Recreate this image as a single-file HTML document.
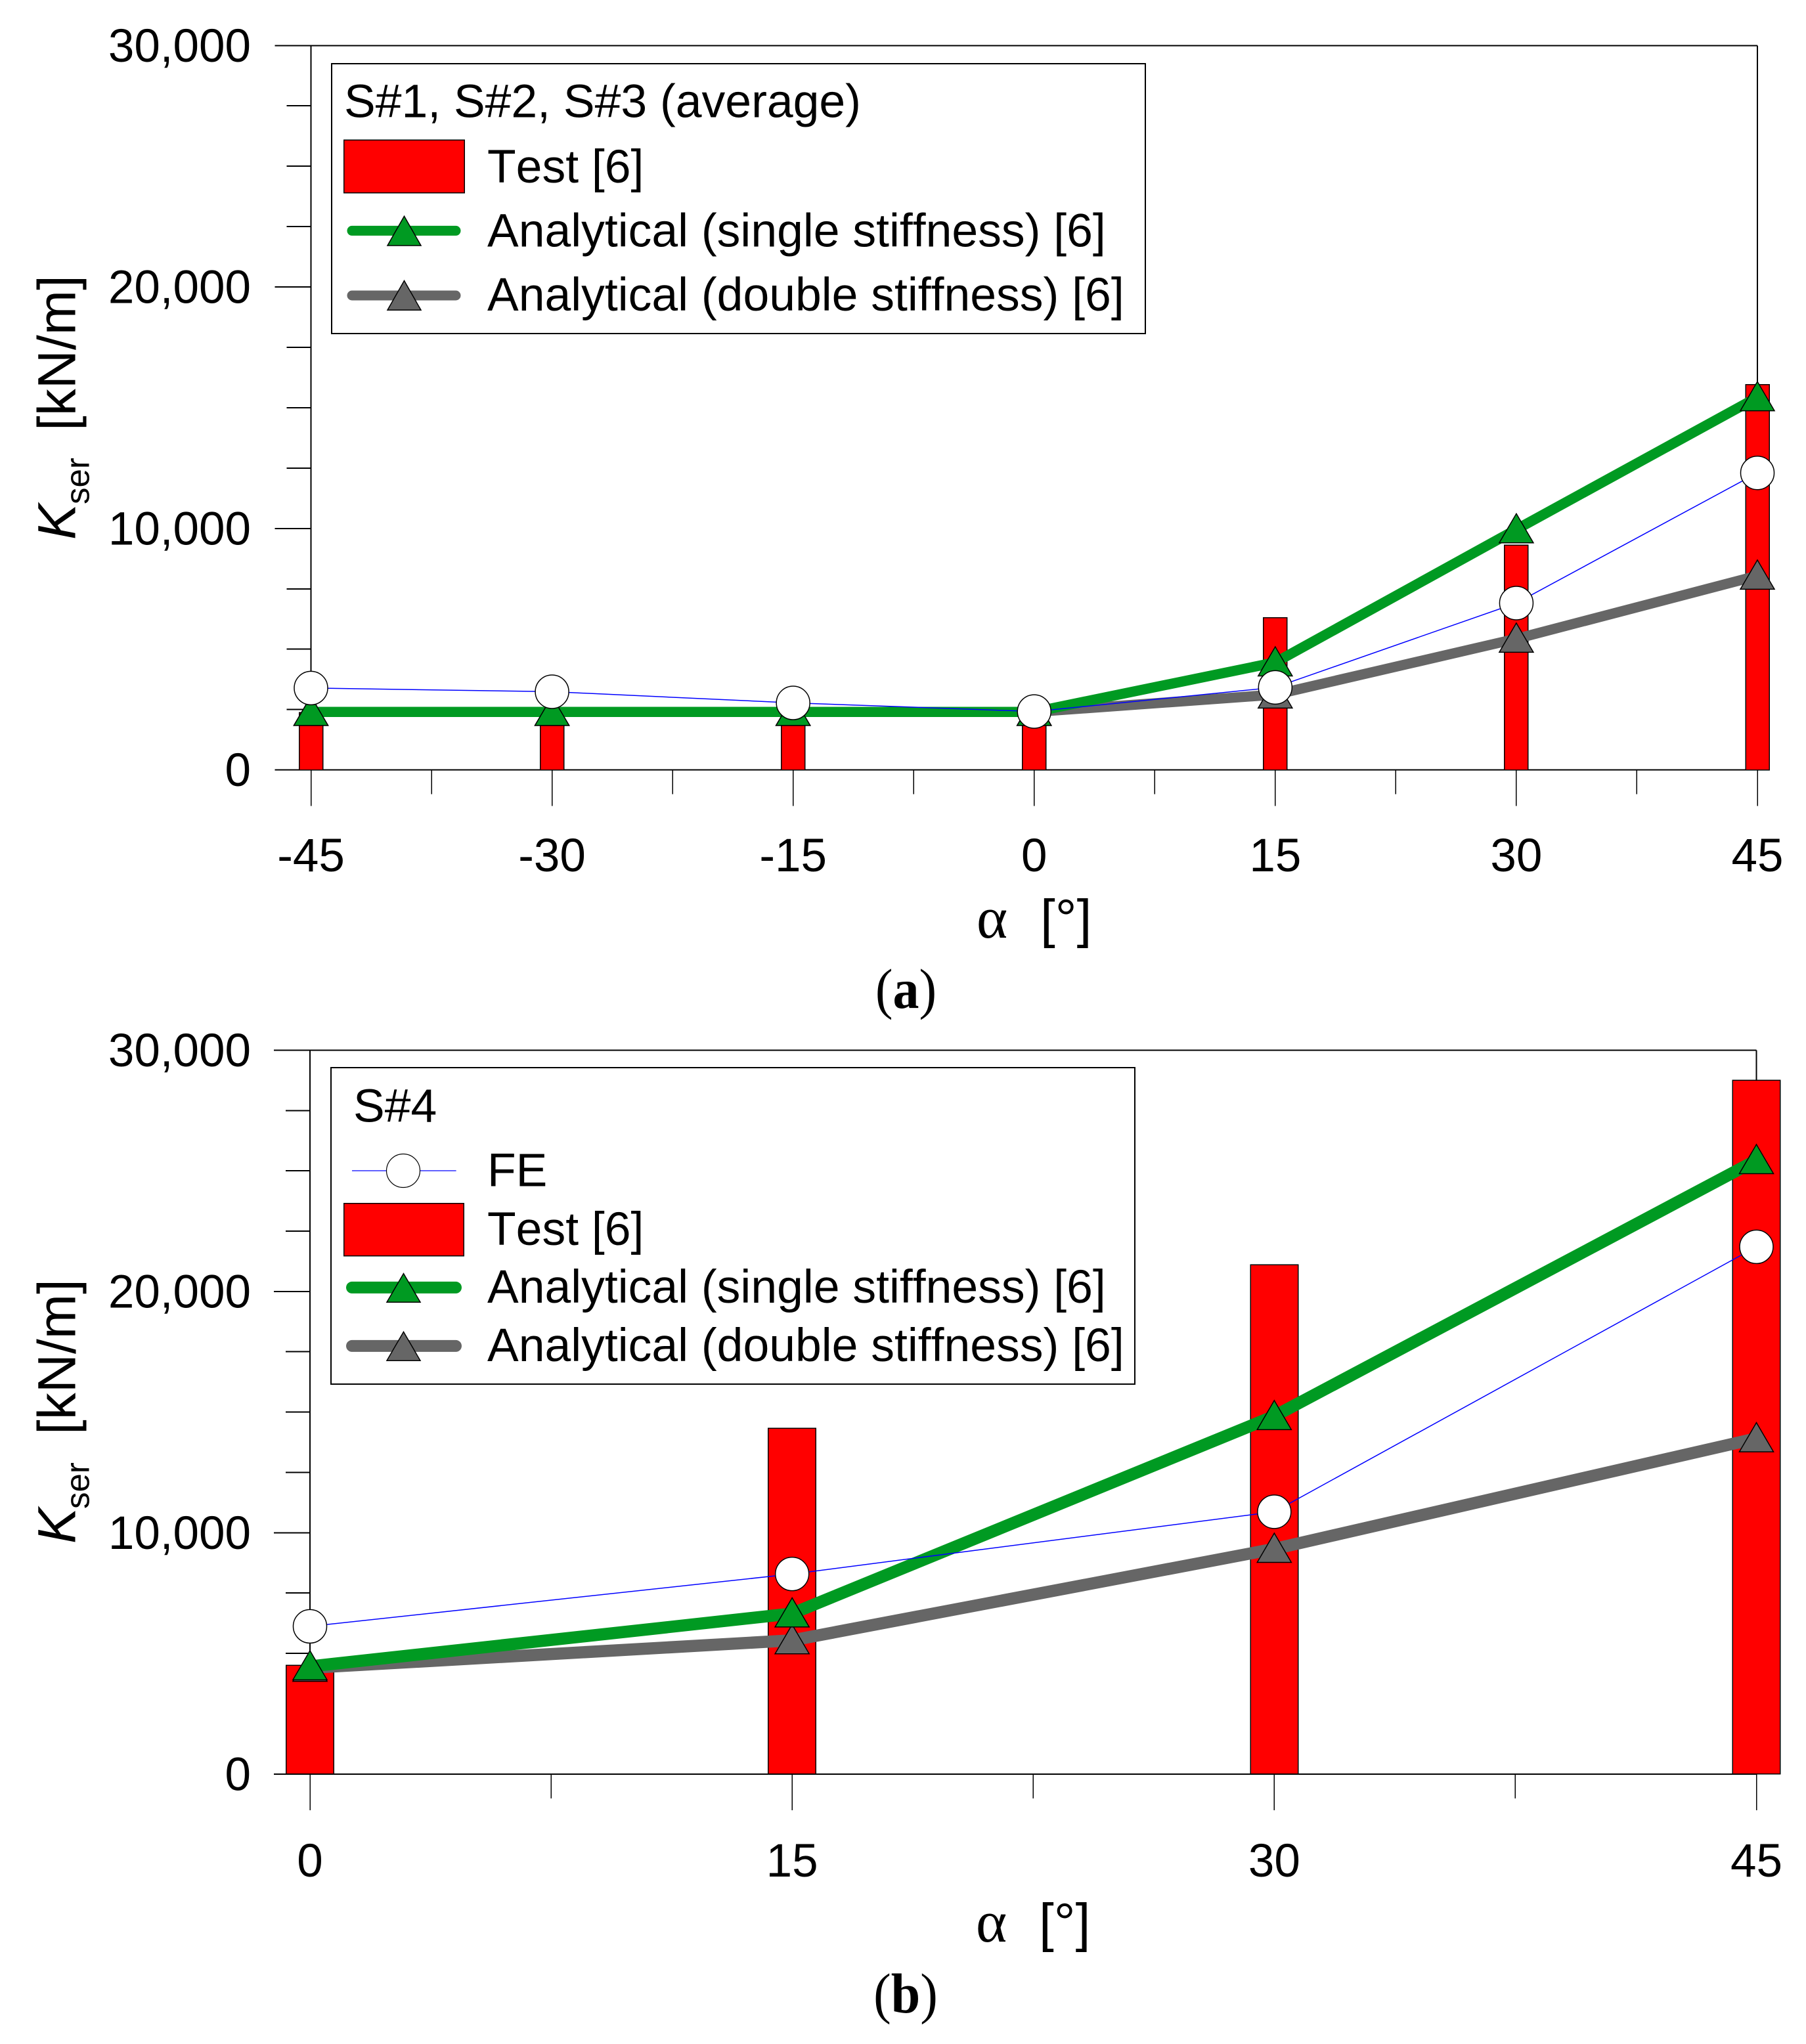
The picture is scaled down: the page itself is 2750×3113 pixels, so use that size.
<!DOCTYPE html>
<html lang="en">
<head>
<meta charset="utf-8">
<title>Kser versus alpha</title>
<style>
html,body{margin:0;padding:0;background:#fff;}
svg{display:block;}
text{font-family:"Liberation Sans",sans-serif;fill:#000;font-kerning:none;}
.t72{font-size:71.5px;}
.crisp{shape-rendering:crispEdges;}
</style>
</head>
<body>
<svg id="chart" xmlns="http://www.w3.org/2000/svg" width="2750" height="3113" viewBox="0 0 2750 3113">
  <rect x="0" y="0" width="2750" height="3113" fill="#ffffff"/>

  <g id="panel-a"></g>
  <g id="panel-b"></g>

  <!-- Panel (a) titles -->
  <text transform="translate(114.7 822) rotate(-90)" font-size="82" font-style="italic">K</text>
  <text transform="translate(135.7 768) rotate(-90)" font-size="51">ser</text>
  <text transform="translate(114.7 656) rotate(-90)" font-size="82">[kN/m]</text>
  <text x="1487" y="1428" font-size="90" style="font-family:'Liberation Serif',serif">α</text>
  <text x="1584" y="1427" font-size="82">[°]</text>
  <text transform="translate(1379.5 1535) scale(0.93 1)" font-size="86" text-anchor="middle" style="font-family:'Liberation Serif',serif">(<tspan font-weight="bold">a</tspan>)</text>

  <!-- Panel (a) legend -->
  <g>
    <rect class="crisp" x="505" y="97" width="1239" height="411" fill="#fff" stroke="#000" stroke-width="2"/>
    <text class="t72" x="524" y="178.6">S#1, S#2, S#3 (average)</text>
    <rect class="crisp" x="523.5" y="213" width="183.5" height="80.5" fill="#ff0000" stroke="#000" stroke-width="1.5"/>
    <text class="t72" x="742" y="278">Test [6]</text>
    <line x1="536" y1="351.4" x2="694" y2="351.4" stroke="#009a22" stroke-width="15" stroke-linecap="round"/>
    <polygon points="615.5,329.3 641,374 590,374" fill="#009a22" stroke="#000" stroke-width="1.5"/>
    <text class="t72" x="742" y="375.7">Analytical (single stiffness) [6]</text>
    <line x1="536" y1="450" x2="694" y2="450" stroke="#666666" stroke-width="15" stroke-linecap="round"/>
    <polygon points="615.5,427.5 641,472.3 590,472.3" fill="#666666" stroke="#000" stroke-width="1.5"/>
    <text class="t72" x="742" y="473.2">Analytical (double stiffness) [6]</text>
  </g>

  <!-- Panel (b) titles -->
  <text transform="translate(114.7 2351) rotate(-90)" font-size="82" font-style="italic">K</text>
  <text transform="translate(135.7 2298) rotate(-90)" font-size="51">ser</text>
  <text transform="translate(114.7 2185) rotate(-90)" font-size="82">[kN/m]</text>
  <text x="1486" y="2957" font-size="90" style="font-family:'Liberation Serif',serif">α</text>
  <text x="1582" y="2956" font-size="82">[°]</text>
  <text transform="translate(1379 3065) scale(0.93 1)" font-size="86" text-anchor="middle" style="font-family:'Liberation Serif',serif">(<tspan font-weight="bold">b</tspan>)</text>

  <!-- Panel (b) legend -->
  <g>
    <rect class="crisp" x="504" y="1626" width="1224" height="482" fill="#fff" stroke="#000" stroke-width="2"/>
    <text class="t72" x="538" y="1708.5">S#4</text>
    <line x1="536" y1="1783" x2="694.6" y2="1783" stroke="#0000ff" stroke-width="1.3"/>
    <circle cx="614" cy="1783" r="25.5" fill="#fff" stroke="#000" stroke-width="1.2"/>
    <text class="t72" x="742" y="1806.5">FE</text>
    <rect class="crisp" x="523.5" y="1832.5" width="182.5" height="80" fill="#ff0000" stroke="#000" stroke-width="1.5"/>
    <text class="t72" x="742" y="1896">Test [6]</text>
    <line x1="536" y1="1960.9" x2="694" y2="1960.9" stroke="#009a22" stroke-width="18" stroke-linecap="round"/>
    <polygon points="614.5,1939.6 640,1983.3 589,1983.3" fill="#009a22" stroke="#000" stroke-width="1.5"/>
    <text class="t72" x="742" y="1984">Analytical (single stiffness) [6]</text>
    <line x1="536" y1="2049.9" x2="694" y2="2049.9" stroke="#666666" stroke-width="18" stroke-linecap="round"/>
    <polygon points="614.5,2028.4 640,2072.3 589,2072.3" fill="#666666" stroke="#000" stroke-width="1.5"/>
    <text class="t72" x="742" y="2072.8">Analytical (double stiffness) [6]</text>
  </g>
</svg>

<script>
// ---- Data ----
var categoriesA = [-45, -30, -15, 0, 15, 30, 45];
var testA   = [2370, 2370, 2370, 2370, 6310, 9315, 15960];
var feA     = [3390, 3240, 2775, 2420, 3420, 6910, 12300];
var singleA = [2400, 2400, 2400, 2400, 4450, 9960, 15430];
var doubleA = [2400, 2400, 2400, 2400, 3120, 5430, 8040];

var categoriesB = [0, 15, 30, 45];
var testB   = [4500, 14335, 21110, 28750];
var feB     = [6120, 8290, 10870, 21850];
var singleB = [4460, 6650, 14830, 25440];
var doubleB = [4400, 5540, 9330, 13910];

var yTickValues = [0, 10000, 20000, 30000];
var yMinorValues = [2500, 5000, 7500, 12500, 15000, 17500, 22500, 25000, 27500];
var yTickLabels = ['0', '10,000', '20,000', '30,000'];

// ---- Rendering ----
var SVGNS = 'http://www.w3.org/2000/svg';

function make(tag, attrs, parent) {
  var el = document.createElementNS(SVGNS, tag);
  for (var k in attrs) { el.setAttribute(k, attrs[k]); }
  parent.appendChild(el);
  return el;
}

function drawPanel(root, geo, categories, test, fe, single, double) {
  var xMin = categories[0];
  var xMax = categories[categories.length - 1];
  function xScale(v) { return geo.xLeft + (v - xMin) / (xMax - xMin) * (geo.xRight - geo.xLeft); }
  function yScale(v) { return geo.yBase + v / 30000 * (geo.yTop - geo.yBase); }
  var i, el, x, y;

  // Frame
  el = make('line', {x1: geo.xLeft - 55, y1: yScale(30000), x2: geo.xRight, y2: yScale(30000), stroke: '#000', 'stroke-width': 2, 'class': 'crisp'}, root);
  
  
  el = make('line', {x1: geo.xLeft - 55, y1: yScale(0), x2: geo.xRight, y2: yScale(0), stroke: '#000', 'stroke-width': 2, 'class': 'crisp'}, root);
  
  
  el = make('line', {x1: geo.xLeft, y1: yScale(0), x2: geo.xLeft, y2: yScale(30000), stroke: '#000', 'stroke-width': 2, 'class': 'crisp'}, root);
  
  
  el = make('line', {x1: geo.xRight, y1: yScale(0), x2: geo.xRight, y2: yScale(30000), stroke: '#000', 'stroke-width': 2, 'class': 'crisp'}, root);
  
  

  // Y ticks
  for (i = 0; i < yTickValues.length; i++) {
    y = yScale(yTickValues[i]);
    el = make('line', {x1: geo.xLeft - 55, y1: y, x2: geo.xLeft, y2: y, stroke: '#000', 'stroke-width': 2, 'class': 'crisp'}, root);
    
    
    el = make('text', {x: 382, y: y + 24.5, 'text-anchor': 'end', 'font-size': 71}, root);
    
    
    el.textContent = yTickLabels[i];
  }
  for (i = 0; i < yMinorValues.length; i++) {
    y = yScale(yMinorValues[i]);
    el = make('line', {x1: geo.xLeft - 37, y1: y, x2: geo.xLeft, y2: y, stroke: '#000', 'stroke-width': 2, 'class': 'crisp'}, root);
    
    
  }

  // X ticks
  for (i = 0; i < categories.length; i++) {
    x = xScale(categories[i]);
    el = make('line', {x1: x, y1: geo.yBase, x2: x, y2: geo.yBase + 55, stroke: '#000', 'stroke-width': 1.5, 'class': 'crisp'}, root);
    
    
    el = make('text', {x: x, y: geo.xLabelY, 'text-anchor': 'middle', 'font-size': 71}, root);
    
    
    el.textContent = String(categories[i]);
    if (i < categories.length - 1) {
      var xm = xScale((categories[i] + categories[i + 1]) / 2);
      el = make('line', {x1: xm, y1: geo.yBase, x2: xm, y2: geo.yBase + 37, stroke: '#000', 'stroke-width': 1.5, 'class': 'crisp'}, root);
      
      
    }
  }

  // Bars
  for (i = 0; i < categories.length; i++) {
    y = yScale(test[i]);
    el = make('rect', {x: xScale(categories[i]) - geo.barWidth / 2, y: y, width: geo.barWidth, height: geo.yBase - y, fill: '#ff0000', stroke: '#000', 'stroke-width': 1.5, 'class': 'crisp'}, root);
    
    
  }

  function polylinePoints(values) {
    var pts = [];
    for (var j = 0; j < categories.length; j++) {
      pts.push(xScale(categories[j]).toFixed(1) + ',' + yScale(values[j]).toFixed(1));
    }
    return pts.join(' ');
  }
  function trianglePoints(cat, val) {
    var cx = xScale(cat), cy = yScale(val);
    return cx + ',' + (cy - 24) + ' ' + (cx + 26) + ',' + (cy + 20.5) + ' ' + (cx - 26) + ',' + (cy + 20.5);
  }

  // Double stiffness series
  el = make('polyline', {points: polylinePoints(double), fill: 'none', stroke: '#666666', 'stroke-width': geo.lineWidth, 'stroke-linejoin': 'round'}, root);
  
  
  for (i = 0; i < categories.length; i++) {
    el = make('polygon', {points: trianglePoints(categories[i], double[i]), fill: '#666666', stroke: '#000', 'stroke-width': 1.5}, root);
    
    
  }

  // Single stiffness series
  el = make('polyline', {points: polylinePoints(single), fill: 'none', stroke: '#009a22', 'stroke-width': geo.lineWidth, 'stroke-linejoin': 'round'}, root);
  
  
  for (i = 0; i < categories.length; i++) {
    el = make('polygon', {points: trianglePoints(categories[i], single[i]), fill: '#009a22', stroke: '#000', 'stroke-width': 1.5}, root);
    
    
  }

  // FE series
  el = make('polyline', {points: polylinePoints(fe), fill: 'none', stroke: '#0000ff', 'stroke-width': 1.5}, root);
  
  
  for (i = 0; i < categories.length; i++) {
    el = make('circle', {cx: xScale(categories[i]), cy: yScale(fe[i]), r: 25.5, fill: '#fff', stroke: '#000', 'stroke-width': 1.5}, root);
    
    
  }
}

drawPanel(document.getElementById('panel-a'),
  {xLeft: 473.5, xRight: 2676, yBase: 1172.6, yTop: 69.3, barWidth: 36, lineWidth: 15.5, xLabelY: 1327},
  categoriesA, testA, feA, singleA, doubleA);

drawPanel(document.getElementById('panel-b'),
  {xLeft: 472, xRight: 2674.5, yBase: 2701.8, yTop: 1599.4, barWidth: 72.5, lineWidth: 18.5, xLabelY: 2858},
  categoriesB, testB, feB, singleB, doubleB);
</script>
</body>
</html>
